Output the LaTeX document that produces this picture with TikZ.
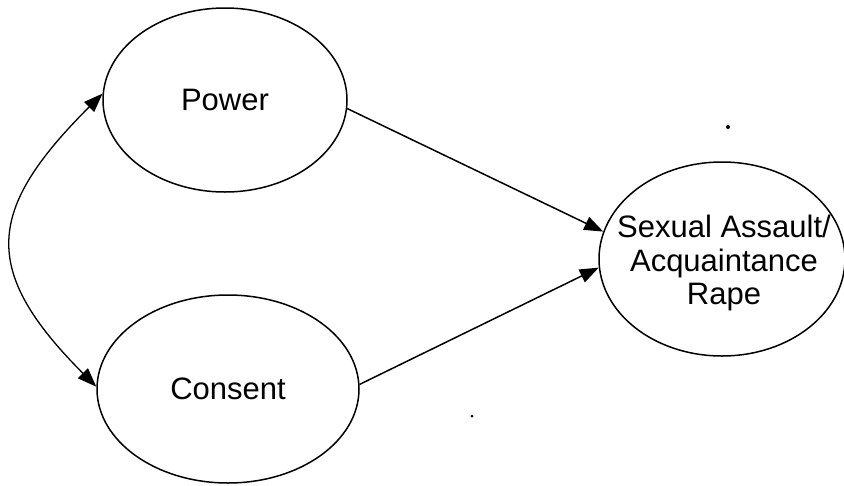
\documentclass[tikz,border=0pt]{standalone}
\usepackage{fontspec}
\setmainfont{Liberation Sans}
\usetikzlibrary{shapes.geometric,arrows.meta}
\begin{document}
\begin{tikzpicture}[x=1pt,y=-1pt,
  var/.style={draw,ellipse,line width=1.5pt,inner sep=0pt,align=center,
    font=\fontsize{31}{33}\selectfont},
  lbl/.style={inner sep=0pt,align=center,font=\fontsize{31}{33.5}\selectfont},
  conn/.style={line width=1.5pt,-{Triangle[length=19pt,width=14pt]}},
  biconn/.style={line width=1.3pt,{Triangle[length=19pt,width=14pt]}-{Triangle[length=19pt,width=14pt]}}]
\useasboundingbox[fill=white] (0,0) rectangle (844,485);
\node[var,minimum width=244pt,minimum height=184pt] (power) at (225,100) {Power};
\node[var,minimum width=262pt,minimum height=188pt] (consent) at (228,389) {Consent};
\node[var,minimum width=246pt,minimum height=194pt] (sa) at (722,259) {};
\node[lbl] (satext) at (724,263) {Sexual Assault/\\Acquaintance\\Rape};
\draw[conn] (power.-4) -- (sa.167);
\draw[conn] (consent.2) -- (sa.184);
\draw[biconn] (power.177) .. controls (-14,210) and (-20,270) .. (consent.179);
\fill (728,127) circle (2pt);
\fill (472,416) circle (1.5pt);
\end{tikzpicture}
\end{document}
